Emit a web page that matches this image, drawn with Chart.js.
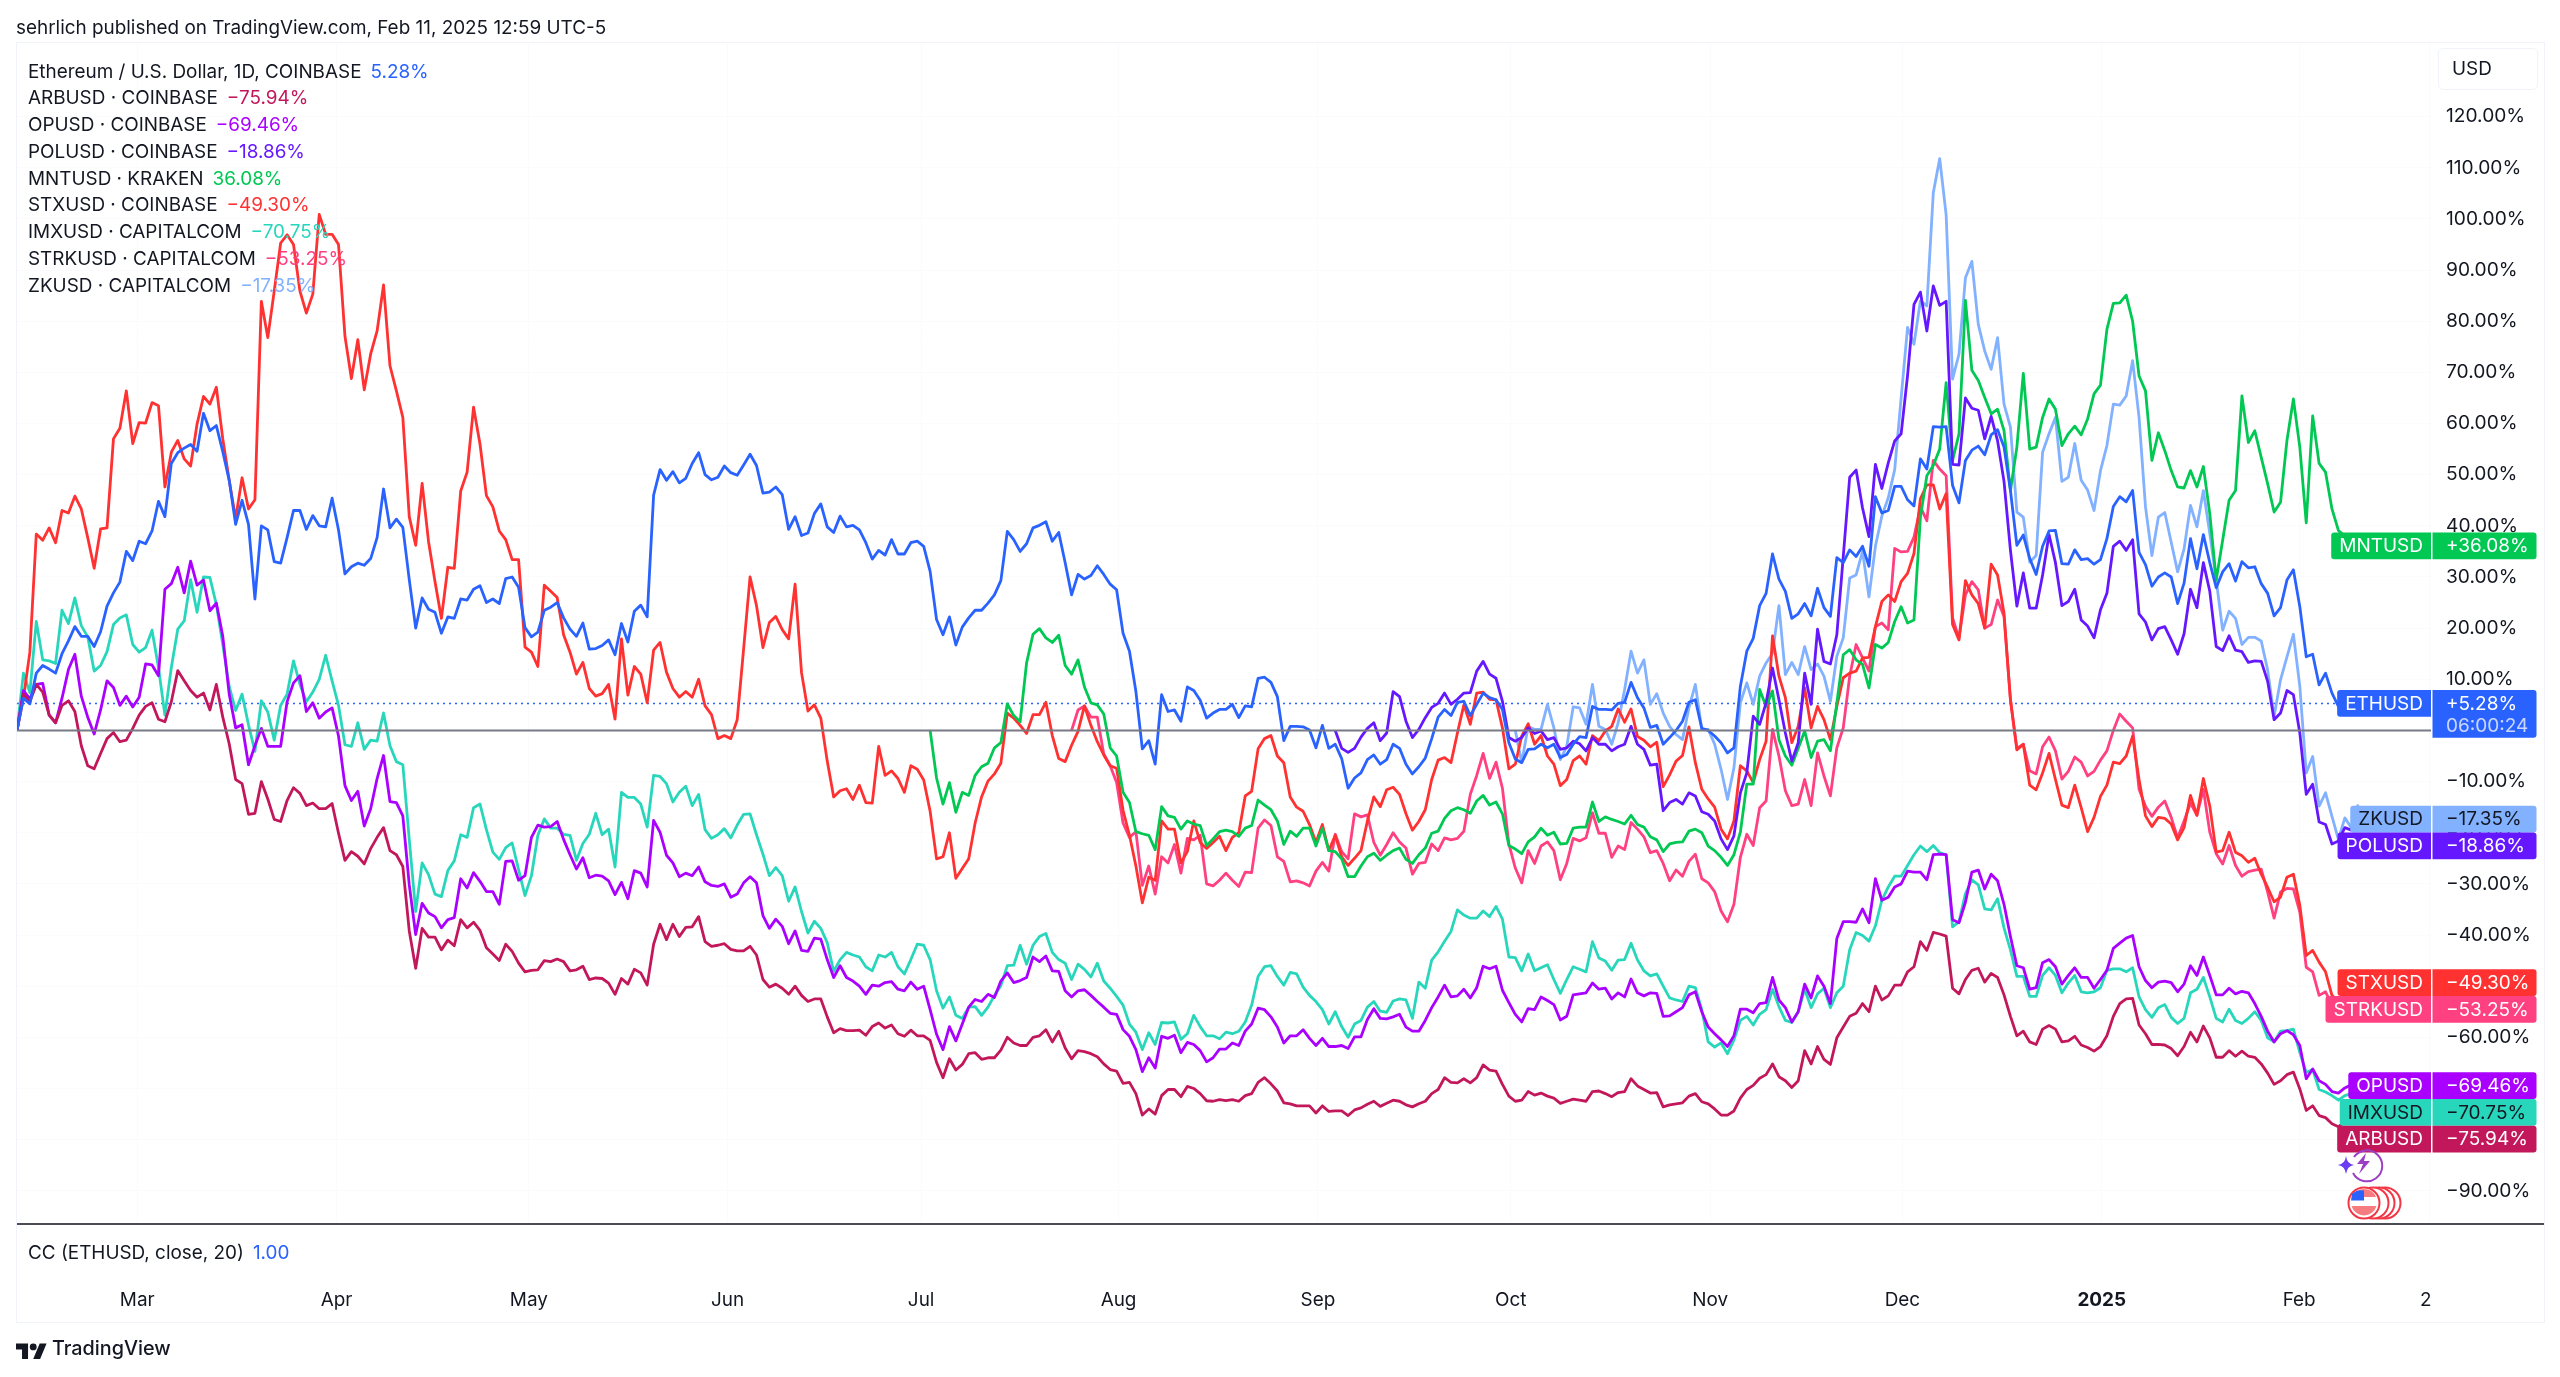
<!DOCTYPE html>
<html>
<head>
<meta charset="utf-8">
<title>ETHUSD comparison</title>
<script src="https://cdn.jsdelivr.net/npm/chart.js@4"></script>
<style>
    body { margin: 0; background: #fff; font-family: Inter, sans-serif; color: #131722; }
    #page { position: relative; width: 2560px; height: 1377px; overflow: hidden; }
    #page div, #page svg { position: absolute; }
    canvas { position: absolute; left: 0; top: 0; }
    #frame { left: 16px; top: 42px; width: 2527px; height: 1279px; border: 1px solid #f0f3fa; }
    #paneLine { left: 17px; top: 1223px; width: 2527px; height: 2px; background: #4a4c55; }
    #head { left: 16px; top: 16px; font-size: 18.9px; line-height: 24px; white-space: nowrap; }
    #legend { left: 28px; top: 58.5px; font-size: 18.9px; line-height: 26.75px; white-space: nowrap; }
    #legend span { margin-left: 9px; }
    #cc { left: 28px; top: 1241px; font-size: 18.9px; line-height: 24px; white-space: nowrap; }
    #cc span { margin-left: 9px; color: #2962ff; }
    #usd { left: 2438px; top: 48px; width: 100px; height: 42px; border: 1px solid #f0f3fa; border-radius: 5px;
           box-sizing: border-box; font-size: 18.9px; line-height: 40px; padding-left: 13px; }
    #brand { left: 52px; top: 1336px; font-size: 19.8px; font-weight: 500; line-height: 24px; }
</style>
</head>
<body>
<div id="page">
    <canvas id="chart" width="2560" height="1377"></canvas>
    <div id="frame"></div>
    <div id="paneLine"></div>
    <div id="head">sehrlich published on TradingView.com, Feb 11, 2025 12:59 UTC-5</div>
    <div id="legend"></div>
    <div id="cc">CC (ETHUSD, close, 20)<span>1.00</span></div>
    <div id="usd">USD</div>

    <svg style="left:2338px;top:1143px" width="70" height="81" viewBox="0 0 70 81">
        <path d="M16 14A15.500 15.500 0 1 1 15 30" fill="none" stroke="#9c3fc4" stroke-width="2"/>
        <path d="M28 10L19 21H25L21 31L32 18H26Z" fill="#9c3fc4"/>
        <path d="M8 13Q9 21 16 22Q9 23 8 31Q7 23 0 22Q7 21 8 13Z" fill="#6a3df5"/>
        <g transform="translate(0 5)">
            <circle cx="47" cy="55" r="15.500" fill="#fff" stroke="#f23645" stroke-width="2"/>
            <circle cx="41" cy="55" r="15.500" fill="#fff" stroke="#f23645" stroke-width="2"/>
            <circle cx="35" cy="55" r="15.500" fill="#fff" stroke="#f23645" stroke-width="2"/>
            <circle cx="26" cy="55" r="15.500" fill="#fff" stroke="#f23645" stroke-width="2"/>
            <path d="M14 49a13 13 0 0 1 24 0z" fill="#f77c80"/>
            <path d="M13.500 58a13 13 0 0 0 25 0z" fill="#f77c80"/>
            <path d="M14 46a13 13 0 0 1 12-3.500v10h-13z" fill="#2962ff"/>
        </g>
    </svg>
    <svg style="left:16px;top:1340px" width="31" height="19" viewBox="0 0 36 22">
        <path d="M14 22H7V11H0V4h14v18zM28 22h-8l7.500-18h8L28 22z" fill="#131722"/>
        <circle cx="20" cy="8" r="4" fill="#131722"/>
    </svg>
    <div id="brand">TradingView</div>
</div>

<script>
// --- Data, % change per day from Feb 2024 ---

const seriesNames = ['ETHUSD', 'ARBUSD', 'OPUSD', 'POLUSD', 'MNTUSD', 'STXUSD', 'IMXUSD', 'STRKUSD', 'ZKUSD'];
const legendNames = ['Ethereum / U.S. Dollar, 1D, COINBASE', 'ARBUSD · COINBASE', 'OPUSD · COINBASE', 'POLUSD · COINBASE',
    'MNTUSD · KRAKEN', 'STXUSD · COINBASE', 'IMXUSD · CAPITALCOM', 'STRKUSD · CAPITALCOM', 'ZKUSD · CAPITALCOM'];
const lastValues = [5.28, -75.94, -69.46, -18.86, 36.08, -49.30, -70.75, -53.25, -17.35];
const seriesColors = ['#2962ff', '#c2185b', '#aa00ff', '#6518ff', '#00c853', '#ff3131', '#28d7bb', '#ff4081', '#82b1ff'];
const labelTextColors = ['#fff', '#fff', '#fff', '#fff', '#fff', '#fff', '#131722', '#fff', '#131722'];
const startDays = [0, 0, 0, 205, 142, 0, 0, 164, 233];

const monthLabels = ['Mar', 'Apr', 'May', 'Jun', 'Jul', 'Aug', 'Sep', 'Oct', 'Nov', 'Dec', '2025', 'Feb', '21'];
const monthDays = [18.7, 49.7, 79.6, 110.5, 140.6, 171.3, 202.3, 232.3, 263.3, 293.2, 324.2, 354.9, 375.2];
const priceTicks = [120, 110, 100, 90, 80, 70, 60, 50, 40, 30, 20, 10, 0, -10, -20, -30, -40, -50, -60, -70, -80, -90];

const ethValues = [
    0,6.3,5.2,11.2,12.7,12,11.2,15,17.5,20.3,18.4,18.4,16.4,19.3,24.3,26.9,29,35,33.2,37,
    36.5,39,44.8,41.8,52.2,54.3,55.2,55.9,54.6,62,58.6,59.6,54.5,48.9,40.3,45,40.3,25.7,40,39.2,
    33,32.7,37.7,43,43,39.3,42,40,39.8,45.4,39.2,30.6,32,32.7,32.3,33.6,37.7,47.2,39.6,41.3,
    39.7,29.5,20,25.9,23.7,23.1,19,22.2,21.9,25.7,25.5,27.6,28.3,25,25.7,24.8,29.7,30,28,20.1,
    18.3,19.2,23.5,24.1,25,22,19.8,18.4,21,15.9,16,16.6,17.7,14.8,20.9,17.3,23.3,24.5,22.2,46,
    51,48.9,50.6,48.4,49.3,52.2,54.3,50,49,49.5,51.7,50.4,49.9,51.9,54,51.8,46.4,46.6,47.6,46.1,
    39.3,41.8,38.1,38.6,42.4,44.3,39.8,38.7,41.9,39.8,40.1,39.2,36.7,33.5,35.2,34.3,37.3,34.5,34.5,36.7,
    37,36,31.1,21.7,18.7,22.2,16.7,20.2,22,23.5,23.5,24.9,26.5,29.3,38.9,37.3,35,36.5,39.6,40.1,
    40.8,37,38.7,32.8,26.5,30.5,29.6,30.3,32.2,30.5,28.6,27.5,19,15.5,7.6,-3.6,-2,-6.6,7,3.7,
    4,1.8,8.5,7.8,5.9,2.4,3.4,4.1,4.1,5.1,2.5,4.8,4.6,10.2,10.4,9.4,6.6,-2,0.8,0.8,
    0.7,0.1,-3.4,1,-3.5,-2.7,-5.5,-11.3,-9.3,-8.3,-5.7,-4.8,-6.6,-5.7,-2.7,-3.5,-6.6,-8.5,-7.1,-5.4,
    -1.6,2.6,4.1,2.9,5.5,5.7,2.9,5.1,7.3,6.4,6,4.1,-2.4,-5.6,-6.3,-3.7,-3.6,-2.7,-3.4,-2.7,
    -5.3,-4.7,-2.7,-1.2,-1.4,4.7,4.1,4.1,4,5.3,5.5,9.4,6.4,4.4,0.6,1,-2.7,-1.4,0,1.8,
    5.5,6,0.4,0,-1.1,-2.4,-4.4,-3.4,8.6,15.5,18,24.4,26.8,34.5,29.6,27.2,21.9,22.8,24.8,22.4,
    27.8,24,22.3,33.8,32.8,35.3,34,36,32.1,45.7,42.5,43,47.7,47.7,45.1,43.9,53.1,51.1,59.4,59.3,
    59.4,47.9,44.5,52.8,54.8,55.6,53.9,57.8,58.8,55.4,46.9,36.2,38.2,33.6,30.5,36,39,39.1,32.6,32.5,
    35.3,33.4,33.6,32.5,33.4,37.5,43.8,45.7,44.7,46.9,34.8,32.4,28.2,30,30.8,30,24.8,28.8,37.5,31.6,
    38.3,32.8,27.9,31,32.6,29.2,33,31.8,32,28.7,26.8,22.4,24,29.4,31.4,24.2,14.4,14.9,8.9,11.2,
    7.3,4.7,5,5.4,5.1,5.2,5.28];

const arbValues = [
    0,7.1,5.6,9,7.5,3,1.5,4.9,5.8,3.7,-3,-6.9,-7.5,-4.5,-1.6,-0.4,-2.2,-1.9,0.4,3,
    4.7,5.4,2.2,1.7,5.6,11.7,9.7,7.8,6.5,7.3,4,9,2.6,-2.6,-9.6,-10.4,-16.4,-16.2,-10,-13.4,
    -17.4,-17.8,-13.7,-11.2,-12.3,-14.7,-14.2,-15.3,-15.3,-14.3,-20.1,-25.4,-23.7,-24.6,-26.1,-23.1,-20.9,-19,-23.5,-24.3,
    -26.6,-39.2,-46.5,-38.7,-40.4,-40.4,-42.9,-41,-42.1,-37,-38.6,-37.5,-39.1,-42.5,-43.7,-45,-41.8,-43.2,-45.5,-47.2,
    -46.9,-46.8,-45,-45.2,-44.7,-45.2,-47,-46.8,-46.1,-48.7,-48.4,-48.5,-49.4,-51.6,-48.5,-49.6,-46.7,-47.4,-49.8,-41.8,
    -37.9,-40.9,-37.9,-40.3,-38.5,-38.4,-36.4,-41.3,-42.2,-42,-41.7,-42.8,-43.1,-43.1,-42.2,-43.9,-48.7,-50.2,-49.6,-50.4,
    -51.6,-50,-51.8,-53,-52.5,-52.5,-56,-59.1,-58.3,-58.7,-58.7,-58.6,-59.6,-57.9,-57.2,-58.2,-57.6,-59.3,-59.8,-58.6,
    -59.7,-59.7,-60.6,-64.9,-67.9,-64.2,-66.4,-65.3,-63.2,-63,-64.3,-64,-64,-62.5,-60,-61.1,-61.6,-61.6,-60,-59.7,
    -58.5,-60.9,-58.8,-62.1,-64.2,-62.6,-62.8,-63.2,-63.8,-65.2,-66.3,-66.6,-69,-68.8,-71,-75.2,-74,-75,-71.4,-70.2,
    -70.2,-71.6,-69.6,-70,-71,-72.4,-72.5,-72.2,-72.4,-72.2,-72.5,-71.4,-71,-68.8,-67.9,-69.1,-70.5,-72.8,-73,-73.4,
    -73.4,-73.4,-74.8,-73.4,-74.5,-74.4,-74.4,-75.3,-74.2,-73.8,-73.1,-72.5,-73.5,-72.9,-72.3,-72.5,-73.2,-73.6,-73,-72.5,
    -71,-70.2,-67.9,-68.8,-68.9,-68.1,-68.9,-67.9,-65.4,-66.4,-66.6,-69.2,-71.5,-72.5,-72.3,-70.6,-71.3,-70.9,-71.5,-71.9,
    -72.9,-72.5,-72.1,-72.3,-72.5,-70.6,-70.5,-71,-71.6,-70.8,-70.6,-68.1,-69.5,-70.2,-70.9,-70.8,-73.6,-73.2,-73,-72.8,
    -71.5,-71,-72.6,-73,-74,-75.2,-75.2,-74.4,-71.9,-70.2,-69.4,-68,-67.3,-65.2,-67.7,-68.5,-69.8,-68.5,-62.6,-65.2,
    -61.8,-64.3,-65.3,-60.1,-58,-55.9,-55.3,-53.4,-55,-50,-52.7,-51.9,-49.8,-49.8,-47.2,-46.2,-41.3,-43,-39.5,-39.8,
    -40.2,-50.4,-51.5,-48.7,-46.9,-46.5,-49.2,-47.5,-48.3,-51.7,-55.9,-59.7,-58.8,-60.9,-61.4,-58.4,-57.7,-58.4,-60.9,-60.7,
    -59.8,-61.5,-62,-62.7,-61.8,-59.7,-55.9,-53.4,-52.5,-52.4,-57.6,-59.3,-61.4,-61.4,-61.5,-62.2,-63.6,-61.8,-59,-60.9,
    -57.8,-60.1,-63.9,-63.9,-62.6,-63.7,-62.7,-63.7,-63.9,-65.2,-67,-69.2,-68.5,-67.3,-66.8,-70.1,-74.3,-73.4,-75.3,-75.7,
    -76.9,-77.5,-76.5,-76.2,-76.1,-76,-75.94];

const opValues = [
    0,7.8,6.2,9,9.2,3,1.5,6.3,11.9,14.9,6.7,2.6,-0.7,4,9.7,8.4,4.9,6.7,4.6,6.5,
    13,12.8,10.7,27.6,28.7,31.9,26.9,33.1,28.4,29.4,23.4,24.9,18.4,7.1,0.5,1.1,-6.7,-3,0.4,-3.1,
    -3.1,-3.1,5.6,9.3,10.7,3.7,5.4,2.4,3.6,4.4,-1.1,-10.8,-13.7,-11.9,-18.7,-15.3,-9.4,-4.9,-13.9,-14.1,
    -16.7,-30.2,-39.9,-33.8,-35.7,-36.4,-38.6,-37,-36.6,-29,-30.8,-27.8,-29.5,-31.5,-31.5,-34,-25.6,-25.5,-29.3,-28.4,
    -20.9,-18.5,-18.9,-18.8,-17.8,-21.3,-24.3,-27.1,-24.9,-28.8,-28.3,-28.5,-29.4,-32.1,-29.7,-32.9,-27.4,-27.9,-30.6,-17.6,
    -19.9,-24.4,-25.9,-28.6,-27.9,-28.4,-26.7,-29.6,-30.3,-30.5,-30,-32.6,-32,-29.8,-28.6,-29.8,-36.2,-38.7,-36.9,-38.3,
    -41.7,-39.2,-43,-43.2,-40.6,-40.8,-44.8,-48.3,-46,-48.3,-49,-50,-51.6,-49.8,-50,-49.3,-49.1,-50.6,-50.9,-49.2,
    -50.6,-50,-54.6,-59.4,-62.4,-57.9,-60.7,-57.4,-54.1,-52.6,-53,-51.6,-52.2,-49,-47.4,-49.3,-48.9,-48.3,-44.3,-45.2,
    -44.1,-47,-47.1,-50.9,-52.1,-50.9,-50.7,-51.8,-53,-54.1,-55.3,-55.5,-58.5,-59.8,-62.4,-66.7,-64,-66,-59.8,-60.2,
    -59.6,-63,-61,-61.4,-62.6,-64.8,-64,-62.3,-62.3,-61.1,-61.6,-58.8,-57.4,-54.3,-54.6,-56,-58,-61.1,-59.7,-59.7,
    -58.5,-60.2,-61.6,-60.2,-61.8,-61.8,-61.6,-62.2,-59.9,-59.9,-56.5,-54.4,-56.3,-56.4,-56,-55.5,-58,-58.8,-58.8,-56.7,
    -54.2,-52.1,-49.8,-52.1,-51.9,-50.6,-52.3,-50.3,-46.1,-46.6,-46.1,-50.8,-53.2,-55.5,-57,-54.4,-54.6,-52.1,-52.8,-53.6,
    -56.6,-55.9,-51.7,-51.5,-51.3,-49.4,-50.6,-50.4,-52.5,-51.3,-52.1,-48.6,-51.3,-51.9,-51.3,-51.4,-55.9,-55.8,-55,-54.2,
    -51.7,-51.1,-55,-58,-59.3,-60.5,-61.8,-59.7,-54.5,-54.5,-55.2,-53.4,-53.2,-48.3,-52.7,-54.2,-57,-55,-49.6,-52.3,
    -48,-50,-53.4,-40.7,-37.4,-37.4,-37.5,-34.9,-37.6,-29,-33.2,-32.6,-30.6,-30,-27.5,-27.7,-27.7,-29.2,-24.3,-24.2,
    -24.3,-37,-37.6,-33.6,-27.7,-27.3,-31,-28.1,-29.4,-34,-40.3,-46,-46.4,-50.6,-50.3,-45.4,-44.8,-46.2,-49.6,-47.9,
    -46.4,-48.3,-48.3,-50.4,-48.7,-46.9,-42.6,-41.6,-40.6,-40.1,-46.2,-48.9,-50.3,-49.2,-49,-49.3,-51.1,-49.6,-46,-47.9,
    -44.3,-47.9,-51.7,-51.7,-50.4,-51.5,-51,-51.3,-53.4,-55.9,-58.8,-60.9,-59.3,-58.7,-59.5,-61.6,-68.1,-66.2,-68.5,-69.2,
    -70.6,-70.9,-69.9,-69.3,-69.6,-69.5,-69.46];

const polValues = [
    0,-3.5,-4.3,-3.5,-1.3,0.4,1.5,-2,-0.5,7.6,6.6,1.8,-1.4,0.2,2.5,
    4.5,5.3,7.3,5.1,6.1,7.3,7.4,11.6,13.5,11,10.2,5.7,-1.4,-2.1,-1.4,0.5,-0.6,-0.1,-1.8,-1.4,
    -3.7,-3.4,-2.1,-2.6,-4,-1.4,-2.7,-2.7,-4,-3.2,-2.7,0.8,-2.7,-3.7,-6.8,-6.6,-15.7,-14.1,-13.5,-14.4,
    -12.2,-12.8,-15.9,-16.4,-17.7,-21.2,-23.3,-20.6,-12.2,-8.3,2.8,1.2,5.4,12.2,6,-0.5,-6,-2.4,11.2,5.1,
    19.8,13.5,13,18.7,34,49.5,50.9,43.5,37.9,52,47.3,52.3,56.6,58,69.4,83.3,85.7,78.1,86.9,83.1,
    83.9,52,51.9,65,63,62.6,57,61.4,56.6,48.7,35.2,24.3,30.8,23.9,23.9,30.4,38.3,32.8,24.4,25.2,
    27.6,21.6,20.4,18.1,23.6,26.8,36,37,35.2,37.3,22.8,21.2,17.7,19.9,20.3,17.7,14.9,18.9,27.6,24,
    32.8,27.2,16.4,15.6,18.5,15.7,15.4,13.3,13.6,13.5,9.6,2.1,3.4,7.8,7,-0.5,-12.5,-10.5,-17.9,-18.4,
    -22.2,-21.6,-19,-19.5,-19,-18.9,-18.86];

const mntValues = [
    0,-9.3,-14.4,-10.2,-16,-12.1,-12.7,-8.8,-7.1,-6.4,-3.4,-2.4,5.2,2.9,1.7,13.2,18.8,19.9,
    18.1,17.2,18.6,12.7,11,13.8,8.5,5.4,5,3.2,-3.4,-5,-12.1,-14.1,-19.8,-20.2,-20.5,-23.3,-14.9,-16.7,
    -17,-19.3,-17.7,-18.3,-18.6,-22.5,-21.2,-19.8,-19.5,-19.8,-20.7,-19.1,-18.6,-13.6,-14.6,-15.5,-17.7,-22.3,-19.7,-20.7,
    -19.1,-19.1,-22.6,-19.1,-23.5,-23.7,-25.1,-28.6,-28.6,-26.5,-24.7,-24,-25.4,-24.4,-23.5,-23,-25.2,-26,-24.3,-23,
    -20.1,-19.7,-17.2,-15.7,-15.1,-15.5,-16.2,-13.8,-12.7,-14.6,-14,-16.3,-22.5,-23.2,-24.1,-21.8,-20.8,-19.1,-20.5,-19.9,
    -22.2,-22.1,-19.1,-18.9,-18.9,-14,-17.8,-16.9,-17.4,-17.8,-18.3,-16.6,-18.4,-18.9,-20.8,-21.4,-23.7,-22.2,-21.9,-21.8,
    -19.7,-19.3,-20,-22.6,-23.5,-24.8,-26.4,-24.3,-19.9,-10.5,-10.5,8,4.7,7.7,-1.8,-5,-6.8,-3.5,-0.1,-5.3,
    -2.1,-1.8,-4,5.4,14.8,15.8,13.8,12.9,8.3,16.8,16.1,17.2,21.3,24.2,21,21.6,41.7,49.8,51.8,55,
    68,52.8,58,84.1,70.4,68.4,65.1,61.9,62.8,58.6,46.9,55.4,69.8,55,55.4,61.2,64.8,62.8,55.7,58,
    59.5,57.8,60.9,65.8,67.5,78.4,83.5,83.6,85.1,80,69.3,66.4,52.8,58.2,54.7,50.8,47.6,47.4,50.8,47.6,
    51.6,42.4,29.4,37.2,45,46.9,65.4,56.3,58.6,53.4,48.2,42.7,44.6,56.7,64.8,55.4,40.6,61.5,52.2,50.5,
    43.3,39.1,38,37,36.5,36.2,36.08];

const stxValues = [
    0,6.3,15.3,38.4,37.2,39.6,36.7,43,42.5,45.8,43.3,37.7,31.7,39.4,39.6,57,59.1,66.4,56.1,60.2,
    60.1,64.1,63.5,47.6,54.4,56.7,53.1,51.7,59.9,65.3,63.8,67.1,57,48.9,41.4,49.4,43.3,45.1,83.9,76.8,
    85.9,95.3,96.9,95,85.9,81.6,85.3,100.9,97,97,95,77.1,68.8,76.4,66.6,73.6,78.1,87.1,71.3,66.4,
    61.2,41.8,36.2,48.3,36.9,29.1,21.9,31.9,31.7,46.8,50.5,63.2,56,45.9,43.7,39,37.3,33.4,33.4,16.3,
    15.3,12.5,28.4,27.2,26,18.7,15.3,11,13.3,8.2,6.7,7.2,9,2.2,17.9,6.9,12.5,11,5.4,15.7,
    17.2,11.4,8.2,6.5,7.6,6.5,10,4.8,3.1,-1.6,-1,-1.6,2.1,16,30,24.4,16.2,21.1,22.3,19.7,
    17.9,28.6,11.3,3.8,5,2.4,-6,-13,-11.8,-11.4,-13.5,-10.7,-14.1,-14.2,-3.1,-8.8,-7.9,-9.4,-12.1,-6.9,
    -7.6,-9.7,-15.8,-25.1,-24.7,-20,-28.9,-27,-25.1,-18.1,-13,-9.9,-8.5,-6.4,3.4,2.4,1,-0.6,3.1,3.1,
    5.5,-1,-5.5,-6.1,-2.9,-0.2,4.8,1,-2.2,-4.8,-6.9,-7.4,-15.6,-20.5,-26.5,-33.7,-28.7,-29.3,-17.7,-19.3,
    -19.3,-25.9,-23.7,-17.7,-21.9,-23.1,-21.9,-20.7,-23.5,-20.9,-20,-12.8,-11.9,-3.6,-1.6,-1,-5,-6.3,-13,-15,
    -15.8,-18.4,-21.9,-18.4,-23.5,-20.5,-24.7,-26.4,-25,-23.5,-17.7,-13,-14.9,-11.6,-11.1,-12.5,-16.3,-19.5,-17.8,-15.5,
    -9.6,-5.8,-5.3,-6.3,-0.5,5,1.2,7.3,7.5,6.1,6,0.5,-7.5,-6.6,-1.1,1.3,-2.7,-1,-5,-6.6,
    -10.8,-9.6,-5.9,-5,-6.6,-1,-2,-0.1,0.8,4.2,1.6,4.2,-1.2,-1.9,-3.2,-2.3,-11,-8.7,-6,-4.9,
    0.7,-6.3,-11.5,-13.4,-15,-19.3,-21.2,-17.7,-6.9,-7.9,-10.2,-5.7,-2.1,18.5,10.6,6.4,-2.4,0.8,8.3,0.5,
    4.7,2.1,-1.8,4.7,10.3,11.2,11.6,14.2,14.3,20.3,25.2,26.5,25.2,29.1,30.7,34.6,45.3,48,48,43.3,
    46.3,20.7,17.7,29.3,26.5,24.8,20,32.5,30.4,22.9,6,-3.8,-2.7,-10.7,-11.6,-8.3,-4.5,-9.6,-14.6,-15.1,
    -10.7,-15.1,-19.8,-17,-12.9,-10.7,-6.2,-6.5,-5,-1.1,-9.6,-16.7,-18.8,-17,-17.2,-18.3,-21.4,-19,-12.7,-16.6,
    -9.4,-14.8,-23.8,-23.5,-19.9,-23.8,-24.5,-25.8,-25,-28.1,-30.7,-33.5,-32.6,-28.7,-28.1,-34.2,-44,-43,-45.3,-47.2,
    -51.8,-53,-52,-50.5,-49.8,-49.5,-49.3];

const imxValues = [
    0,11.2,7.4,21.3,13.8,13.6,13.1,23.5,20.9,25.9,20.5,18.3,11.6,12.7,15.4,20.7,22,22.6,16.8,15.3,
    16.2,19.6,12.3,3,12.3,19.8,21.4,29.5,23.1,30,29.9,24.6,16.8,8.6,3.9,7.1,1.1,-4.1,5.8,3.6,
    -1.9,4.9,7.1,13.6,9,5.6,7.5,10,14.7,9.7,4.9,-2.8,-3.1,1.5,-3.7,-1.9,-2.1,3.4,-3,-6.1,
    -6.7,-21.3,-35.4,-25.9,-28.2,-32,-32.5,-27.4,-25.5,-20.4,-20.9,-15.1,-14.4,-19.4,-23.8,-25.2,-22.9,-22,-27.2,-32.3,
    -28.4,-20.5,-17.3,-19.1,-19.1,-20.3,-20.5,-25.4,-22.1,-20.3,-16.2,-20.4,-19.3,-26.7,-12.1,-13.1,-13.1,-14.4,-18.9,-8.8,
    -9,-10.4,-14,-12.1,-10.9,-14.7,-12.5,-19.4,-21.1,-20.4,-19.2,-21,-18.5,-16.4,-16.3,-20.4,-24.2,-28.4,-26.8,-28.4,
    -33.4,-30.6,-35.4,-39.6,-37.3,-38.7,-41.5,-47.1,-44.8,-43.4,-43.9,-44.3,-46.2,-47,-43.9,-44.3,-43.4,-46.2,-47.6,-44.8,
    -41.8,-42,-44.8,-50.9,-54.3,-52.1,-55.7,-56.3,-54.1,-54,-55.7,-54.1,-51.8,-49.9,-46,-45.9,-42,-45.7,-42,-40.3,
    -39.7,-43.4,-44.8,-45.5,-48.7,-45.7,-46.7,-48.2,-45.5,-49,-50.4,-52,-53.7,-57.4,-59,-62.4,-59.1,-61.4,-57.1,-57.2,
    -57,-60.4,-59.3,-55.7,-57.9,-59.7,-59.7,-60.3,-59,-59.3,-58.8,-57,-53.7,-48.1,-46.2,-46,-48.1,-49.8,-47.3,-47.6,
    -50.2,-51.8,-53,-54.6,-57.4,-55,-57.9,-60,-57.4,-56.7,-54.1,-53,-54.9,-55.1,-52.9,-52.5,-52.7,-56.3,-49.2,-50.4,
    -44.9,-43.3,-41.2,-39.3,-35.1,-36.1,-36.7,-36.7,-35.3,-36.4,-34.4,-36.9,-44.3,-44.4,-47,-43.7,-47,-46.4,-45.8,-48.7,
    -51.4,-48.7,-46.2,-46.7,-47.2,-41.3,-44.5,-45.1,-46.9,-44.9,-44.8,-41.6,-44.9,-47,-48,-47.6,-50,-52.3,-52.7,-53,
    -50,-50.3,-54.6,-60.9,-61.9,-61.1,-63.2,-60.5,-56.7,-55.9,-57.6,-55.5,-54.6,-50.6,-54,-56.7,-57.1,-55,-50.6,-54.2,
    -51.5,-50.4,-54.2,-51.3,-50,-42.9,-39.5,-40.1,-41.2,-38.2,-33.2,-30.6,-28.5,-28.5,-26.4,-24.3,-22.6,-23.7,-22.5,-23.9,
    -24.3,-38.4,-37.4,-31.9,-29.2,-30.2,-34.9,-35.1,-32.9,-38.6,-42.9,-48.1,-48.1,-52,-52,-47.9,-46.4,-47.9,-51.3,-49.4,
    -47.9,-51.1,-51.3,-51.1,-50.3,-46.9,-46.6,-46.6,-47.2,-46.4,-52.1,-54.6,-56.1,-54.2,-53.6,-56.1,-57.3,-56.3,-51.3,-50.6,
    -48.3,-52.1,-56.3,-57,-54.5,-56.7,-57.3,-56.3,-55,-56.7,-60.1,-60.9,-58.8,-58.7,-58.4,-63,-66.9,-66.3,-70.2,-70.7,
    -71.4,-72.3,-71.4,-71,-71,-70.8,-70.75];

const strkValues = [
    0,4,4.8,2.6,2.6,-4.6,-6.9,-10.2,-18.1,-20.9,-19.8,-30.3,-26.5,-32,-24.7,-25.9,
    -22.3,-27.9,-21.1,-21.4,-20.5,-30,-30.4,-29.3,-27.9,-29.3,-30.5,-27.7,-27.8,-19.1,-17.5,-18.6,-24.7,-25.6,-29.6,-29.4,
    -29.8,-30.4,-27.5,-25.8,-27.5,-20.3,-23.7,-25.1,-16.3,-16.9,-16.5,-21.9,-24.4,-22.3,-20,-21.8,-23,-28.1,-26,-25.8,
    -22.2,-23.5,-21,-21.4,-21.1,-19.7,-12.5,-8.8,-4.5,-9.4,-6.2,-11.3,-22.2,-26.9,-29.8,-23.5,-26,-22.6,-21.8,-23.5,
    -29.2,-26,-21.1,-21.6,-21,-16.1,-20.1,-20.1,-24.8,-22.6,-23.3,-18,-19.3,-20.8,-23.9,-23.5,-26,-29.4,-27.3,-28.5,
    -25.6,-24.2,-29,-29.8,-31.5,-35.3,-37.4,-34,-24.8,-20.3,-22.5,-15.1,-13.8,0.2,-5,-11.8,-14.7,-14.4,-9.6,-14.7,
    -4.4,-8.9,-12.8,-3.4,0.5,10.6,16.8,14.2,11.6,20.3,21,19.7,35.6,34.9,35,37.8,43.7,41,52.8,51.1,
    49.8,22,18,26.5,29.1,27.5,20,20.7,25.5,22.3,6,-3.5,-2.7,-7.9,-8.5,-3.2,-1.3,-4,-9.5,-8,
    -5.2,-6.2,-8.9,-8,-5.8,-4,0,3.2,1.8,0.5,-11.5,-14.8,-16.8,-15,-13.8,-17,-21,-17.7,-14.2,-16.6,
    -11.5,-19.9,-24.1,-26.1,-22.5,-26.4,-28.5,-27.6,-27.3,-27.1,-31.6,-36.7,-31.6,-30.9,-31,-35.5,-46.3,-47.2,-51.8,-51.1,
    -53.7,-54.5,-54,-53.6,-53.4,-53.3,-53.25];

const zkValues = [
    0,-6.3,0.8,0.2,0.2,5.1,0.5,
    -5.7,-3.1,4.6,4.4,1.2,9,0.8,0.2,-2.7,1.5,8,15.5,11.2,13.8,5.1,7.2,3.4,0.8,-0.8,-1.8,
    4.4,9,0.2,0.2,-2.7,-7.6,-13.5,-7.3,5.4,9.3,5.1,10.6,13.2,15.1,24.4,10.9,13.3,10.9,16.4,11.9,
    13,10.6,5.7,14.5,18.1,29.8,30.4,35,26.1,36,41.9,45.5,51,65,78.8,75.5,84,83,105.1,111.8,
    100.8,68.7,73.6,88.5,91.7,79.4,74.2,70.6,76.8,63.8,59.3,42.7,41.7,32.9,34.2,54.4,58,61.2,48.7,49.5,
    56.1,48.9,47,43,50.8,55.7,63.8,63.6,65.4,72.3,61.2,43.7,34.2,41.7,42.6,36.8,31,35.5,44,39.8,
    46.9,38.5,29.4,19.6,23.3,21.9,16.8,18.2,18.2,17.5,11.8,2.7,9.9,14.4,18.8,8.6,-8.3,-5.1,-14.8,-12.2,
    -16.8,-21.3,-17.1,-19,-14.7,-17,-17.35];

const seriesValues = [ethValues, arbValues, opValues, polValues, mntValues, stxValues, imxValues, strkValues, zkValues];

// --- Axis window, sized so the chart area lands where the picture has it ---
const dayMax = 375.4;
const pctMax = 134.6;
const pctMin = -96.5;

const uiFont = 'Inter, sans-serif';

// --- Helper: signed percent text, with a real minus sign ---
function fmtPct(v, plus) {
    const text = Math.abs(v).toFixed(2) + '%';
    if (v < 0) return '\u2212' + text;
    return plus ? '+' + text : text;
}

// --- Legend ---
const legendEl = document.getElementById('legend');
seriesNames.forEach((name, i) => {
    const row = document.createElement('div');
    row.style.position = 'static';
    row.innerHTML = `${legendNames[i]}<span style="color:${seriesColors[i]}">${fmtPct(lastValues[i])}</span>`;
    legendEl.appendChild(row);
});

// --- Last-value tags on the price axis ---
const priceTags = {
    id: 'priceTags',
    afterDraw(chart) {
        const c = chart.ctx;
        const scale = chart.scales.y;
        const axisX = chart.chartArea.right;
        const tagH = 26.7;

        // hide what runs past the time axis edge
        c.fillStyle = '#fff';
        c.fillRect(axisX + 1, 1282, 110, 32);

        const order = seriesNames.map((n, i) => i).sort((a, b) => lastValues[b] - lastValues[a]);
        let prevY = -100;
        c.font = '19px ' + uiFont;
        c.textBaseline = 'middle';

        order.forEach(i => {
            const y = Math.max(scale.getPixelForValue(lastValues[i]), prevY + tagH);
            prevY = y;
            const nameW = c.measureText(seriesNames[i]).width + 16;
            const extra = i === 0 ? 21 : 0;   // ETH carries the countdown below its value

            c.fillStyle = seriesColors[i];
            c.beginPath();
            c.roundRect(axisX - nameW, y - tagH / 2, nameW, tagH, [3, 0, 0, 3]);
            c.fill();
            c.beginPath();
            c.roundRect(axisX + 1.5, y - tagH / 2, 104, tagH + extra, [0, 3, 3, 0]);
            c.fill();

            c.fillStyle = labelTextColors[i];
            c.textAlign = 'right';
            c.fillText(seriesNames[i], axisX - 8, y + 0.5);
            c.textAlign = 'left';
            c.fillText(fmtPct(lastValues[i], true), axisX + 15, y + 0.5);
            if (i === 0) {
                c.fillStyle = 'rgba(255,255,255,0.75)';
                c.fillText('06:00:24', axisX + 15, y + 22.5);
            }
        });
    }
};

// --- Chart setup ---
const datasets = [
    {
        label: 'zero',
        data: [{ x: 0, y: 0 }, { x: dayMax, y: 0 }],
        borderColor: '#787b86',
        borderWidth: 2,
        pointRadius: 0
    }
];

seriesValues.forEach((values, i) => {
    datasets.push({
        label: seriesNames[i],
        data: values.map((v, k) => ({ x: startDays[i] + k, y: v })),
        borderColor: seriesColors[i],
        borderWidth: 2.8,
        borderJoinStyle: 'round',
        tension: 0,
        pointRadius: 0
    });
});

datasets.push({
    label: 'ETH last',
    data: [{ x: 0, y: lastValues[0] }, { x: dayMax, y: lastValues[0] }],
    borderColor: '#2962ff',
    borderWidth: 1.5,
    borderDash: [2, 4],
    pointRadius: 0
});

new Chart(document.getElementById('chart').getContext('2d'), {
    type: 'line',
    data: { datasets: datasets },
    options: {
        responsive: false,
        animation: false,
        layout: { padding: { left: 17, top: 42, right: 16, bottom: 0 } },
        plugins: { legend: { display: false }, tooltip: { enabled: false } },
        scales: {
            x: {
                type: 'linear',
                min: 0,
                max: dayMax,
                afterBuildTicks: scale => { scale.ticks = monthDays.map(d => ({ value: d })); },
                afterFit: scale => { scale.height = 153; },
                grid: { color: '#fbfbfe', drawTicks: false },
                border: { display: false },
                ticks: {
                    autoSkip: false,
                    maxRotation: 0,
                    padding: 65,
                    color: '#131722',
                    font: ctx => ({
                        family: uiFont,
                        size: 18.9,
                        weight: ctx.tick && monthLabels[monthDays.indexOf(ctx.tick.value)] === '2025' ? '700' : '400'
                    }),
                    callback: v => monthLabels[monthDays.indexOf(v)]
                }
            },
            y: {
                position: 'right',
                min: pctMin,
                max: pctMax,
                afterBuildTicks: scale => { scale.ticks = priceTicks.map(v => ({ value: v })); },
                afterFit: scale => { scale.width = 113; },
                grid: { color: '#fbfbfe', drawTicks: false },
                border: { display: false },
                ticks: {
                    padding: 15,
                    color: '#131722',
                    font: { family: uiFont, size: 19.2 },
                    callback: v => fmtPct(v)
                }
            }
        }
    },
    plugins: [priceTags]
});
</script>
</body>
</html>
